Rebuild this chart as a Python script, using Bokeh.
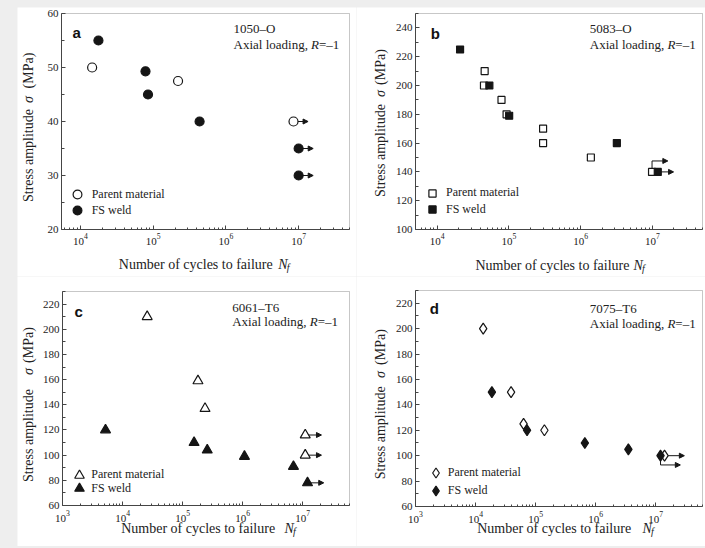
import math
from bokeh.plotting import figure
from bokeh.layouts import column, row
from bokeh.models import (Range1d, FixedTicker, Label, Legend,
                          LegendItem, Arrow, NormalHead, ColumnDataSource, LogAxis,
                          LinearAxis, BoxAnnotation, Spacer)
from bokeh.embed import file_html
from bokeh.resources import INLINE

# ---------------- data ----------------
# (a) 1050-O
a_pm_cycles = [1.45e4, 2.2e5, 8.5e6]
a_pm_stress = [50, 47.5, 40]
a_pm_runout = ["", "", "right"]
a_fs_cycles = [1.77e4, 7.85e4, 8.5e4, 4.35e5, 1.0e7, 1.0e7]
a_fs_stress = [55, 49.3, 45, 40, 35, 30]
a_fs_runout = ["", "", "", "", "right", "right"]

# (b) 5083-O
b_pm_cycles = [4.6e4, 4.5e4, 7.9e4, 9.3e4, 3.0e5, 3.0e5, 1.39e6, 9.9e6]
b_pm_stress = [210, 200, 190, 180, 170, 160, 150, 140]
b_pm_runout = ["", "", "", "", "", "", "", "up"]
b_fs_cycles = [2.09e4, 5.35e4, 1.01e5, 3.2e6, 1.19e7]
b_fs_stress = [225, 200, 179, 160, 140]
b_fs_runout = ["", "", "", "", "right"]

# (c) 6061-T6
c_pm_cycles = [2.57e4, 1.8e5, 2.36e5, 1.1e7, 1.1e7]
c_pm_stress = [210, 159, 137, 116, 100]
c_pm_runout = ["", "", "", "right", "right"]
c_fs_cycles = [5.2e3, 1.55e5, 2.57e5, 1.07e6, 7.0e6, 1.2e7]
c_fs_stress = [120, 110, 104, 99, 91, 78]
c_fs_runout = ["", "", "", "", "", "right"]

# (d) 7075-T6
d_pm_cycles = [1.34e4, 3.9e4, 6.3e4, 1.4e5, 1.4e7]
d_pm_stress = [200, 150, 125, 120, 100]
d_pm_runout = ["", "", "", "", "right"]
d_fs_cycles = [1.87e4, 7.2e4, 6.6e5, 3.5e6, 1.2e7]
d_fs_stress = [150, 120, 110, 105, 100]
d_fs_runout = ["", "", "", "", "down"]

panel_letters = ["a", "b", "c", "d"]
alloys = ["1050\u2013O", "5083\u2013O", "6061\u2013T6", "7075\u2013T6"]
legend_labels = ["Parent material", "FS weld"]
x_major_exponents = [3, 4, 5, 6, 7]

# ---------------- styling ----------------
SERIF = "Liberation Serif"
SANS = "Liberation Sans"
INK = "#151515"
TEXT = "#222222"
FRAME = "#454545"
PAGE = "#eeeeee"

x_major_all = [10.0 ** k for k in x_major_exponents]
x_minor_all = [m * 10.0 ** k for k in range(2, 8) for m in range(2, 10)]


def add_runouts(p, xs, ys, kinds, decades, bend):
    rx0, ry0, rx1, ry1 = [], [], [], []
    sx0, sy0, sx1, sy1 = [], [], [], []
    for x, y, k in zip(xs, ys, kinds):
        if not k:
            continue
        yb = y
        if k == "up":
            yb = y + bend
        elif k == "down":
            yb = y - bend
        if yb != y:
            sx0.append(x); sy0.append(y); sx1.append(x); sy1.append(yb)
        rx0.append(x); ry0.append(yb); rx1.append(x * 10 ** decades); ry1.append(yb)
    if sx0:
        p.segment(x0=sx0, y0=sy0, x1=sx1, y1=sy1, line_color=INK, line_width=1)
    if rx0:
        src = ColumnDataSource(dict(x0=rx0, y0=ry0, x1=rx1, y1=ry1))
        p.add_layout(Arrow(source=src, x_start="x0", y_start="y0", x_end="x1", y_end="y1",
                           line_color=INK, line_width=1, level="underlay",
                           end=NormalHead(size=5, fill_color=INK, line_color=INK, line_width=1)))


# geometry: figure size and plot box (left, right, top, bottom) in figure pixels (from top-left)
specs = [
    dict(letter=0, w=339, h=269, box=(44, 332, 6, 222),
         xr=(5.5e3, 5e7), yr=(20, 60), yint=10,
         pm=(a_pm_cycles, a_pm_stress, a_pm_runout), fs=(a_fs_cycles, a_fs_stress, a_fs_runout),
         marker="circle", msize=9, gsize=22, arrow=0.2, bend=0,
         leg=(59.7, 187, 203, 74.7),
         ann=(216, 21, 37), let=(55, 25.3),
         ylab=(11, 148, 92, 63), xlab=(101.3, 260.7, 257.3), xstand=4),
    dict(letter=1, w=349, h=269, box=(59, 346, 6, 222),
         xr=(5e3, 5e7), yr=(100, 250), yint=20,
         pm=(b_pm_cycles, b_pm_stress, b_pm_runout), fs=(b_fs_cycles, b_fs_stress, b_fs_runout),
         marker="square", msize=7, gsize=18, arrow=0.22, bend=7.6,
         leg=(76, 185.7, 202.3, 90),
         ann=(233.3, 21, 37), let=(74.3, 26.3),
         ylab=(24, 143, 86, 59.5), xlab=(119, 277, 258), xstand=4),
    dict(letter=2, w=339, h=270, box=(45, 332, 15, 229),
         xr=(1e3, 6e7), yr=(60, 230), yint=20,
         pm=(c_pm_cycles, c_pm_stress, c_pm_runout), fs=(c_fs_cycles, c_fs_stress, c_fs_runout),
         marker="triangle", msize=10, gsize=24, arrow=0.27, bend=0,
         leg=(62.3, 198.7, 212.3, 74.7),
         ann=(214.7, 31.3, 44.7), let=(57, 34.7),
         ylab=(11.3, 159, 95, 68.5), xlab=(103.7, 267, 252.3), xstand=5),
    dict(letter=3, w=349, h=270, box=(59, 346, 14, 230),
         xr=(1e3, 6e7), yr=(60, 230), yint=20,
         pm=(d_pm_cycles, d_pm_stress, d_pm_runout), fs=(d_fs_cycles, d_fs_stress, d_fs_runout),
         marker="diamond", msize=11, gsize=25, arrow=0.33, bend=7.3,
         leg=(79.3, 196.3, 214.7, 91.7),
         ann=(233.3, 32.3, 47), let=(73.3, 32.3),
         ylab=(24.3, 156.3, 98, 70.5), xlab=(120.7, 286, 252.3), xstand=5),
]


def make_panel(s):
    W, H = s["w"], s["h"]
    L, R, T, B = s["box"]
    xmin, xmax = s["xr"]
    ymin, ymax = s["yr"]
    # extend the ranges so that the plot box lands at the wanted pixels
    kx = (R - L) / (math.log10(xmax) - math.log10(xmin))
    x_lo = 10 ** (math.log10(xmin) - L / kx)
    x_hi = 10 ** (math.log10(xmax) + (W - R) / kx)
    ky = (B - T) / (ymax - ymin)
    y_lo = ymin - (H - B) / ky
    y_hi = ymax + T / ky

    p = figure(width=W, height=H, x_axis_type="log", x_axis_location=None,
               y_axis_location=None, x_range=Range1d(x_lo, x_hi), y_range=Range1d(y_lo, y_hi),
               output_backend="svg", toolbar_location=None, min_border=0)
    p.grid.visible = False
    p.outline_line_color = None
    p.background_fill_color = "white"
    p.border_fill_color = "white"

    eps = 1e-9
    xt = [t for t in x_major_all if xmin * (1 - eps) <= t <= xmax * (1 + eps)]
    xm = [t for t in x_minor_all if xmin * (1 - eps) <= t <= xmax * (1 + eps)]
    yint = s["yint"]
    n = int(round((ymax - ymin) / yint))
    yt = [ymin + i * yint for i in range(n + 1) if ymin + i * yint <= ymax]
    ym = [ymin + (i + 0.5) * yint for i in range(n + 1) if ymin + (i + 0.5) * yint <= ymax]

    xa = LogAxis(fixed_location=ymin, bounds=(xmin, xmax),
                 ticker=FixedTicker(ticks=xt, minor_ticks=xm))
    ya = LinearAxis(fixed_location=xmin, bounds=(ymin, ymax),
                    ticker=FixedTicker(ticks=yt, minor_ticks=ym))
    for ax in (xa, ya):
        ax.axis_line_color = FRAME
        ax.major_tick_line_color = FRAME
        ax.minor_tick_line_color = FRAME
        ax.major_tick_in = 4
        ax.major_tick_out = 0
        ax.minor_tick_in = 2
        ax.minor_tick_out = 0
        ax.major_label_text_font = SERIF
        ax.major_label_text_font_size = "11px"
        ax.major_label_text_color = TEXT
        ax.axis_label = None
    ya.minor_tick_in = 3
    ya.major_label_standoff = 3
    xa.major_label_standoff = s["xstand"]
    p.add_layout(xa, "below")
    p.add_layout(ya, "left")
    p.add_layout(BoxAnnotation(left=xmin, right=xmax, bottom=ymin, top=ymax,
                               fill_color=None, fill_alpha=0, line_color=FRAME,
                               line_width=1, level="guide"))

    # runout arrows (under the markers)
    add_runouts(p, *s["pm"], s["arrow"], s["bend"])
    add_runouts(p, *s["fs"], s["arrow"], s["bend"])

    r_pm = p.scatter(s["pm"][0], s["pm"][1], marker=s["marker"], size=s["msize"],
                     fill_color="white", line_color=INK, line_width=1.2)
    r_fs = p.scatter(s["fs"][0], s["fs"][1], marker=s["marker"], size=s["msize"],
                     fill_color=INK, line_color=INK, line_width=1.2)

    def lbl(x, y_top, text, size="13px", style="normal", align="left",
            baseline="middle", angle=0.0, font=SERIF, color=TEXT):
        p.add_layout(Label(x=x, y=H - y_top, x_units="screen", y_units="screen", text=text,
                           text_font=font, text_font_size=size, text_font_style=style,
                           text_align=align, text_baseline=baseline, angle=angle,
                           text_color=color))

    # legend, one item per box so that the swatch keeps the marker size
    gx, gy1, gy2, tx = s["leg"]
    G = s["gsize"]
    for r, gy, text in ((r_pm, gy1, legend_labels[0]), (r_fs, gy2, legend_labels[1])):
        lg = Legend(items=[LegendItem(label=text, renderers=[r])],
                    location=(gx - G / 2, H - gy - G / 2), glyph_width=G, glyph_height=G,
                    label_height=G, label_width=10,
                    label_standoff=max(0, int(round(tx - (gx + G / 2)))),
                    padding=0, spacing=0, margin=0, border_line_color=None,
                    background_fill_alpha=0, label_text_font=SERIF,
                    label_text_font_size="12px", label_text_color=TEXT)
        p.add_layout(lg)

    # alloy and loading
    ax0, ay1, ay2 = s["ann"]
    lbl(ax0, ay1, alloys[s["letter"]])
    lbl(ax0, ay2, "Axial loading,")
    lbl(ax0 + 77.6, ay2, "R", style="italic")
    lbl(ax0 + 85.5, ay2, "=\u20131")

    # panel letter
    lx, lyb = s["let"]
    lbl(lx, lyb, panel_letters[s["letter"]], size="15px", style="bold",
        baseline="alphabetic", font=SANS, color="#111111")

    # y axis title
    yx, c1, c2, c3 = s["ylab"]
    lbl(yx, c1, "Stress amplitude", size="14px", align="center", angle=math.pi / 2)
    lbl(yx, c2, "\u03c3", size="14px", style="italic", align="center", angle=math.pi / 2)
    lbl(yx, c3, "(MPa)", size="14px", align="center", angle=math.pi / 2)

    # x axis title
    x0, xn, yy = s["xlab"]
    lbl(x0, yy, "Number of cycles to failure", size="14px")
    lbl(xn, yy, "N", size="14px", style="italic")
    lbl(xn + 8.5, yy + 2.5, "f", size="10px", style="italic")
    return p


panels = [make_panel(s) for s in specs]
bg = {"background-color": PAGE}
layout = column(
    Spacer(width=705, height=7, styles=bg),
    row(Spacer(width=17, height=269, styles=bg), panels[0], panels[1]),
    row(Spacer(width=17, height=270, styles=bg), panels[2], panels[3]),
    Spacer(width=705, height=2, styles=bg),
    styles=bg,
)

open("out.html", "w").write(file_html(layout, INLINE))
